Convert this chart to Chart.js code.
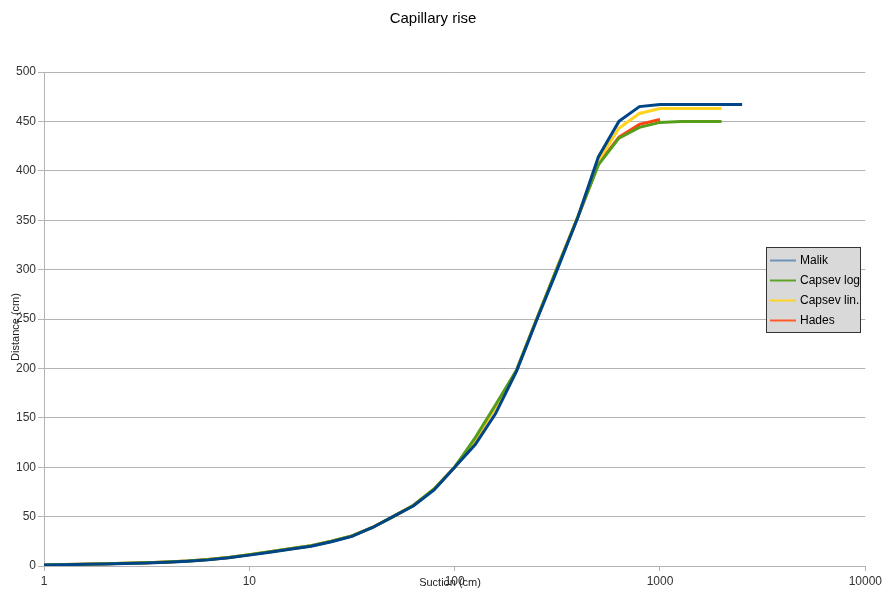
<!DOCTYPE html>
<html>
<head>
<meta charset="utf-8">
<title>Capillary rise</title>
<script src="https://cdn.jsdelivr.net/npm/chart.js@4.4.0/dist/chart.umd.min.js"></script>
<style>
  html, body { margin: 0; padding: 0; background: #fff; }
  #wrap { width: 885px; height: 592px; }
</style>
</head>
<body>
<div id="wrap"><canvas id="capChart" width="885" height="592"></canvas></div>
<script>
// suction values (cm), log spaced
const suction = [1, 1.26, 1.58, 2, 2.51, 3.16, 3.98, 5.01, 6.31, 7.94,
  10, 12.6, 15.8, 20, 25.1, 31.6, 39.8, 50.1, 63.1, 79.4,
  100, 126, 158, 200, 251, 316, 398, 501, 631, 794,
  1000, 1259, 1585, 1995, 2512];

const malik = [1, 1.3, 1.7, 2, 2.6, 3.1, 3.8, 4.8, 6.2, 8.3,
  11, 14, 17, 20, 24.5, 30, 39, 50, 61, 77,
  100, 123, 154, 197, 249, 300, 353, 414, 450, 465,
  467, 467, 467, 467, 467];

const capsevLog = [1, 1.4, 1.8, 2.2, 2.8, 3.3, 4, 5, 6.5, 8.6,
  11.5, 14.5, 17.5, 20.5, 25, 30.5, 39, 50, 61.5, 78,
  100, 130, 163, 198, 250, 302, 353, 406, 433, 444,
  449, 450, 450, 450];

const capsevLin = [1, 1.4, 1.8, 2.2, 2.8, 3.3, 4, 5, 6.5, 8.6,
  11.5, 14.5, 17.5, 20.5, 25, 30.5, 39, 50, 61.5, 78,
  100, 128, 161, 198, 250, 302, 354, 410, 443, 458,
  463, 463, 463, 463];

const hades = [1, 1.4, 1.8, 2.2, 2.8, 3.3, 4, 5, 6.5, 8.6,
  11.5, 14.5, 17.5, 20.5, 25, 30.5, 39, 50, 61.5, 78,
  100, 128, 161, 198, 250, 302, 353, 407, 434, 447,
  452];

const seriesNames = ["Malik", "Capsev log", "Capsev lin.", "Hades"];
const seriesColors = ["#004586", "#579d1c", "#ffd320", "#ff420e"];
const legendColors = ["#6f93b8", "#5ea326", "#ffd320", "#ff5a2a"];
const xTicks = [1, 10, 100, 1000, 10000];

const fontFam = '"Liberation Sans", Arial, sans-serif';

function toPoints(vals) {
  return vals.map((v, i) => ({ x: suction[i], y: v }));
}

// axis titles and the boxed legend, drawn over the plot like the original
const overlay = {
  id: "overlay",
  afterDraw(chart) {
    const c = chart.ctx;
    c.save();
    c.fillStyle = "#222";
    c.font = "11px " + fontFam;
    c.textAlign = "center";
    c.textBaseline = "middle";
    c.fillText("Suction (cm)", 450, 583);
    c.translate(16, 327);
    c.rotate(-Math.PI / 2);
    c.fillText("Distance (cm)", 0, 0);
    c.restore();

    c.save();
    c.fillStyle = "#d9d9d9";
    c.fillRect(766.5, 247.5, 94, 85);
    c.strokeStyle = "#333";
    c.lineWidth = 1;
    c.strokeRect(766.5, 247.5, 94, 85);
    c.font = "12px " + fontFam;
    c.textAlign = "left";
    c.textBaseline = "middle";
    seriesNames.forEach((name, i) => {
      const y = 260.5 + i * 20;
      c.strokeStyle = legendColors[i];
      c.lineWidth = 2;
      c.beginPath();
      c.moveTo(770, y);
      c.lineTo(796, y);
      c.stroke();
      c.fillStyle = "#000";
      c.fillText(name, 800, y);
    });
    c.restore();
  }
};

const ctx = document.getElementById("capChart").getContext("2d");
const allSeries = [malik, capsevLog, capsevLin, hades];

new Chart(ctx, {
  type: "line",
  data: {
    datasets: allSeries.map((vals, i) => ({
      label: seriesNames[i],
      data: toPoints(vals),
      borderColor: seriesColors[i],
      backgroundColor: seriesColors[i],
      borderWidth: 3,
      pointRadius: 0,
      tension: 0,
      fill: false
    }))
  },
  options: {
    responsive: false,
    animation: false,
    layout: { padding: { left: 0, right: 19, top: 0, bottom: 0 } },
    plugins: {
      legend: { display: false },
      tooltip: { enabled: false },
      title: {
        display: true,
        text: "Capillary rise",
        color: "#000",
        font: { family: fontFam, size: 15, weight: "normal" },
        padding: { top: 10, bottom: 44 }
      }
    },
    scales: {
      x: {
        type: "logarithmic",
        min: 1,
        max: 10000,
        afterBuildTicks: scale => {
          scale.ticks = xTicks.map(v => ({ value: v }));
        },
        afterFit: scale => { scale.height = 26; },
        ticks: {
          color: "#333",
          font: { family: fontFam, size: 12 },
          padding: 3,
          maxRotation: 0,
          autoSkip: false,
          callback: val => String(val)
        },
        grid: { drawOnChartArea: false, drawTicks: true, tickLength: 5, color: "#b3b3b3" },
        border: { color: "#b3b3b3" }
      },
      y: {
        min: 0,
        max: 500,
        afterFit: scale => { scale.width = 44; },
        ticks: {
          stepSize: 50,
          color: "#333",
          font: { family: fontFam, size: 12 },
          padding: 2
        },
        grid: { color: "#b3b3b3", tickLength: 6 },
        border: { color: "#b3b3b3" }
      }
    }
  },
  plugins: [overlay]
});
</script>
</body>
</html>
